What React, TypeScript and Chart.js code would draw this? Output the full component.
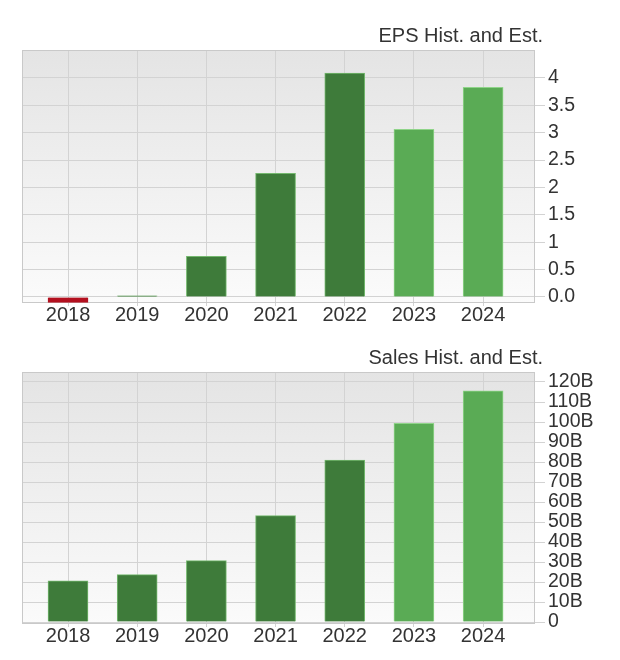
import React, { useEffect, useRef } from 'react';
import { Chart, registerables } from 'chart.js';

Chart.register(...registerables);

// ---- data ----
const years = ['2018', '2019', '2020', '2021', '2022', '2023', '2024'];

const epsValues = [-0.1, 0.02, 0.74, 2.26, 4.09, 3.06, 3.83];
const epsKinds = ['neg', 'hist', 'hist', 'hist', 'hist', 'est', 'est'];
const epsTickValues = [0, 0.5, 1, 1.5, 2, 2.5, 3, 3.5, 4];
const epsTickLabels = ['0.0', '0.5', '1', '1.5', '2', '2.5', '3', '3.5', '4'];

const salesValues = [20.6, 23.7, 30.7, 53.2, 81, 99.3, 115.6]; // billions
const salesKinds = ['hist', 'hist', 'hist', 'hist', 'hist', 'est', 'est'];
const salesTickValues = [0, 10, 20, 30, 40, 50, 60, 70, 80, 90, 100, 110, 120];
const salesTickLabels = ['0', '10B', '20B', '30B', '40B', '50B', '60B', '70B', '80B', '90B', '100B', '110B', '120B'];

// ---- styles ----
const FONT = '"Liberation Sans", Arial, sans-serif';
const TEXT = '#333333';
const GRID = '#d3d3d3';
const fillByKind: Record<string, string> = { hist: '#3e7b3a', est: '#5aab55', neg: '#b3101f' };
const borderByKind: Record<string, string> = { hist: '#74b86e', est: '#8fd489', neg: '#b3101f' };

const framePlugin = {
  id: 'frame',
  beforeDraw(chart: any, _args: any, opts: any) {
    const { ctx, chartArea: a } = chart;
    ctx.save();
    const g = ctx.createLinearGradient(0, a.top, 0, a.bottom);
    g.addColorStop(0, '#e4e4e4');
    g.addColorStop(1, '#fbfbfb');
    ctx.fillStyle = g;
    ctx.fillRect(a.left, a.top, a.right - a.left, a.bottom - a.top);
    ctx.fillStyle = TEXT;
    ctx.font = `20px ${FONT}`;
    ctx.textAlign = 'right';
    ctx.textBaseline = 'alphabetic';
    ctx.fillText(opts.text, a.right + 8, a.top - 8);
    ctx.restore();
  },
  beforeDatasetsDraw(chart: any) {
    const { ctx, chartArea: a } = chart;
    ctx.save();
    ctx.strokeStyle = '#c9c9c9';
    ctx.lineWidth = 1;
    ctx.strokeRect(a.left + 0.5, a.top + 0.5, a.right - a.left - 1, a.bottom - a.top - 1);
    ctx.restore();
  },
};

function makeConfig(
  title: string,
  values: number[],
  kinds: string[],
  tickValues: number[],
  tickLabels: string[],
  yMin: number,
  yMax: number,
  padTop: number,
  xHeight: number,
): any {
  return {
    type: 'bar',
    data: {
      datasets: [
        {
          data: values.map((v, i) => ({ x: i, y: v })),
          backgroundColor: kinds.map((k) => fillByKind[k]),
          borderColor: kinds.map((k) => borderByKind[k]),
          borderWidth: 1,
          barThickness: 40,
        },
      ],
    },
    options: {
      animation: false,
      responsive: false,
      devicePixelRatio: 1,
      layout: { padding: { left: 22, top: padTop, right: 0, bottom: 0 } },
      plugins: {
        legend: { display: false },
        tooltip: { enabled: false },
        title: { display: false },
        frame: { text: title },
      },
      scales: {
        x: {
          type: 'linear',
          offset: false,
          min: -0.665,
          max: 6.75,
          afterBuildTicks: (s: any) => {
            s.ticks = years.map((_, i) => ({ value: i }));
          },
          afterFit: (s: any) => {
            s.height = xHeight;
          },
          grid: { offset: false, color: GRID, lineWidth: 1, drawTicks: true, tickLength: 3, tickColor: GRID },
          border: { display: false },
          ticks: {
            padding: -3,
            color: TEXT,
            font: { family: FONT, size: 20 },
            maxRotation: 0,
            autoSkip: false,
            callback: (v: any) => years[v as number] ?? '',
          },
        },
        y: {
          position: 'right',
          min: yMin,
          max: yMax,
          afterBuildTicks: (s: any) => {
            s.ticks = tickValues.map((v) => ({ value: v }));
          },
          afterFit: (s: any) => {
            s.width = 85;
          },
          grid: { color: GRID, lineWidth: 1, drawTicks: true, tickLength: 10, tickColor: GRID },
          border: { display: false },
          ticks: {
            padding: 3,
            color: TEXT,
            font: { family: FONT, size: 19.5 },
            autoSkip: false,
            callback: (v: any) => {
              const idx = tickValues.indexOf(v as number);
              return idx >= 0 ? tickLabels[idx] : '';
            },
          },
        },
      },
    },
    plugins: [framePlugin],
  };
}

function BarPanel(props: {
  title: string;
  values: number[];
  kinds: string[];
  tickValues: number[];
  tickLabels: string[];
  yMin: number;
  yMax: number;
  padTop: number;
  xHeight: number;
  top: number;
}) {
  const ref = useRef<HTMLCanvasElement | null>(null);
  useEffect(() => {
    if (!ref.current) return;
    const chart = new Chart(
      ref.current,
      makeConfig(
        props.title,
        props.values,
        props.kinds,
        props.tickValues,
        props.tickLabels,
        props.yMin,
        props.yMax,
        props.padTop,
        props.xHeight,
      ),
    );
    return () => chart.destroy();
  }, []);
  return (
    <canvas
      ref={ref}
      width={620}
      height={330}
      style={{ position: 'absolute', left: 0, top: props.top, width: 620, height: 330, display: 'block' }}
    />
  );
}

export default function App() {
  return (
    <div style={{ position: 'absolute', left: 0, top: 0, width: 620, height: 660, background: '#ffffff' }}>
      <BarPanel
        title="EPS Hist. and Est."
        values={epsValues}
        kinds={epsKinds}
        tickValues={epsTickValues}
        tickLabels={epsTickLabels}
        yMin={-0.11}
        yMax={4.51}
        padTop={50}
        xHeight={27}
        top={0}
      />
      <BarPanel
        title="Sales Hist. and Est."
        values={salesValues}
        kinds={salesKinds}
        tickValues={salesTickValues}
        tickLabels={salesTickLabels}
        yMin={-1}
        yMax={125}
        padTop={42}
        xHeight={36}
        top={330}
      />
    </div>
  );
}
